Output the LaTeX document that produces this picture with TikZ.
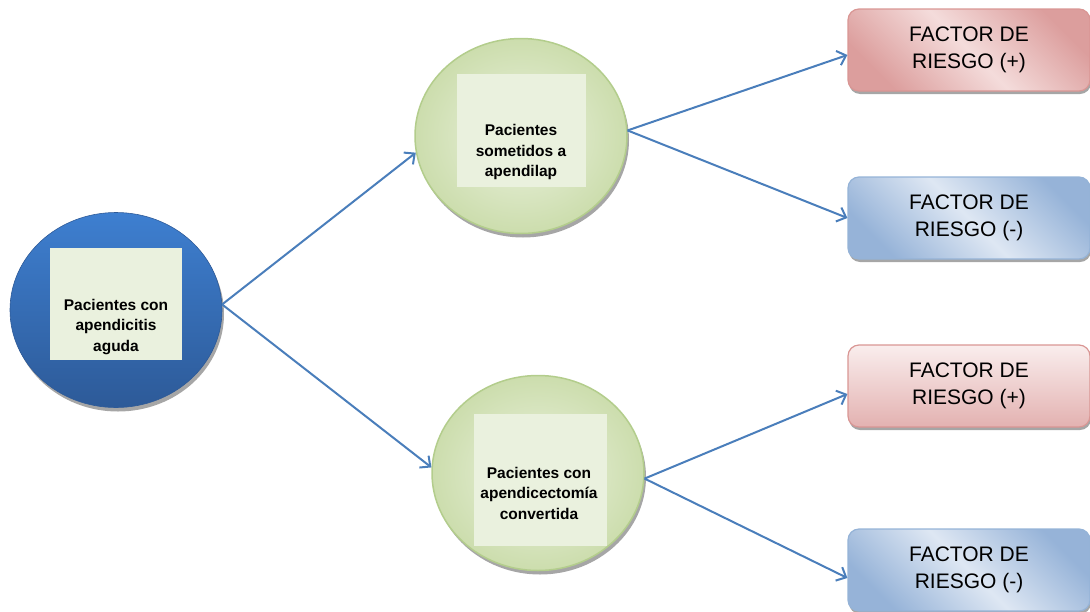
\documentclass[tikz,border=0pt]{standalone}
\usepackage{fontspec}
\setmainfont{Liberation Sans}
\usetikzlibrary{shapes.geometric,arrows.meta}
\definecolor{arrowblue}{HTML}{4A7EBB}
\definecolor{innerfill}{HTML}{EAF1DE}
\definecolor{greenedge}{HTML}{B3CD8C}
\definecolor{greenlight}{HTML}{EBF2DF}
\definecolor{greendark}{HTML}{CCDDAD}
\definecolor{bluetop}{HTML}{3E7FD0}
\definecolor{bluebot}{HTML}{2D5A98}
\definecolor{redlight}{HTML}{F4DCDB}
\definecolor{reddark}{HTML}{DC9E9D}
\definecolor{rededge}{HTML}{D99694}
\definecolor{bluelight}{HTML}{DEE7F3}
\definecolor{bluedark}{HTML}{96B3D8}
\definecolor{blueedge}{HTML}{95B3D7}
\definecolor{shadowgray}{HTML}{A6A6A6}
\tikzset{
  bigcircle/.style={ellipse, minimum width=212pt, minimum height=195pt, inner sep=0pt},
  shadowcircle/.style={bigcircle, fill=shadowgray, draw=none},
  bluecircle/.style={bigcircle, top color=bluetop, bottom color=bluebot, draw=bluebot, line width=0.6pt},
  greencircle/.style={bigcircle, inner color=greenlight, outer color=greendark, draw=greenedge, line width=1.5pt},
  innersq/.style={fill=innerfill, draw=none, inner sep=0pt},
  circtext/.style={align=center, font=\bfseries\fontsize{15.5}{20.5}\selectfont, inner sep=0pt, text=black},
  factor/.style={rounded corners=11pt, minimum width=242pt, minimum height=82pt, inner sep=0pt, align=center, font=\fontsize{21}{27}\selectfont},
  boxshadow/.style={factor, fill=shadowgray, draw=none},
  redbox/.style={factor, draw=rededge, line width=1.2pt, top color=reddark, bottom color=reddark, middle color=redlight, shading angle=-45},
  redboxv/.style={factor, draw=rededge, line width=1.2pt, top color=redlight!50!white, bottom color=reddark!80!white},
  bluebox/.style={factor, draw=blueedge, line width=1.2pt, top color=bluedark, bottom color=bluedark, middle color=bluelight, shading angle=-45},
  conn/.style={draw=arrowblue, line width=2pt, -{Straight Barb[length=8pt,width=15pt]}}
}
\begin{document}
\begin{tikzpicture}[x=1pt,y=-1pt]
\useasboundingbox (0,0) rectangle (1090,611);
% shadows
\node[shadowcircle] at (118,314) {};
\node[shadowcircle] at (523,140) {};
\node[shadowcircle] at (540,477) {};
\node[boxshadow] at (970,53) {};
\node[boxshadow] at (970,221) {};
\node[boxshadow] at (970,389) {};
\node[boxshadow] at (970,573) {};
% circles
\node[bluecircle] (c0) at (116,310) {};
\node[greencircle] (c1) at (521,136) {};
\node[greencircle] (c2) at (538,473) {};
% inner squares
\node[innersq, minimum width=132pt, minimum height=112pt] (s0) at (116,304) {};
\node[innersq, minimum width=129pt, minimum height=113pt] (s1) at (521,130) {};
\node[innersq, minimum width=133pt, minimum height=132pt] (s2) at (540,480) {};
% circle texts
\node[circtext] (t0) at (116,327) {Pacientes con\\apendicitis\\aguda};
\node[circtext] (t1) at (521,152) {Pacientes\\sometidos a\\apendilap};
\node[circtext] (t2) at (539,493) {Pacientes con\\apendicectomía\\convertida};
% right boxes
\node[redbox] (r1) at (969,50) {FACTOR DE\\RIESGO (+)};
\node[bluebox] (r2) at (969,218) {FACTOR DE\\RIESGO (-)};
\node[redboxv] (r3) at (969,386) {FACTOR DE\\RIESGO (+)};
\node[bluebox] (r4) at (969,570) {FACTOR DE\\RIESGO (-)};
% connectors
\draw[conn] (c0.3) -- (c1.189);
\draw[conn] (c0.3) -- (c2.177);
\draw[conn] (c1.3) -- ([yshift=-5pt]r1.west);
\draw[conn] (c1.3) -- (r2.west);
\draw[conn] (c2.-3) -- ([yshift=-8pt]r3.west);
\draw[conn] (c2.-3) -- ([yshift=-8pt]r4.west);
\end{tikzpicture}
\end{document}
